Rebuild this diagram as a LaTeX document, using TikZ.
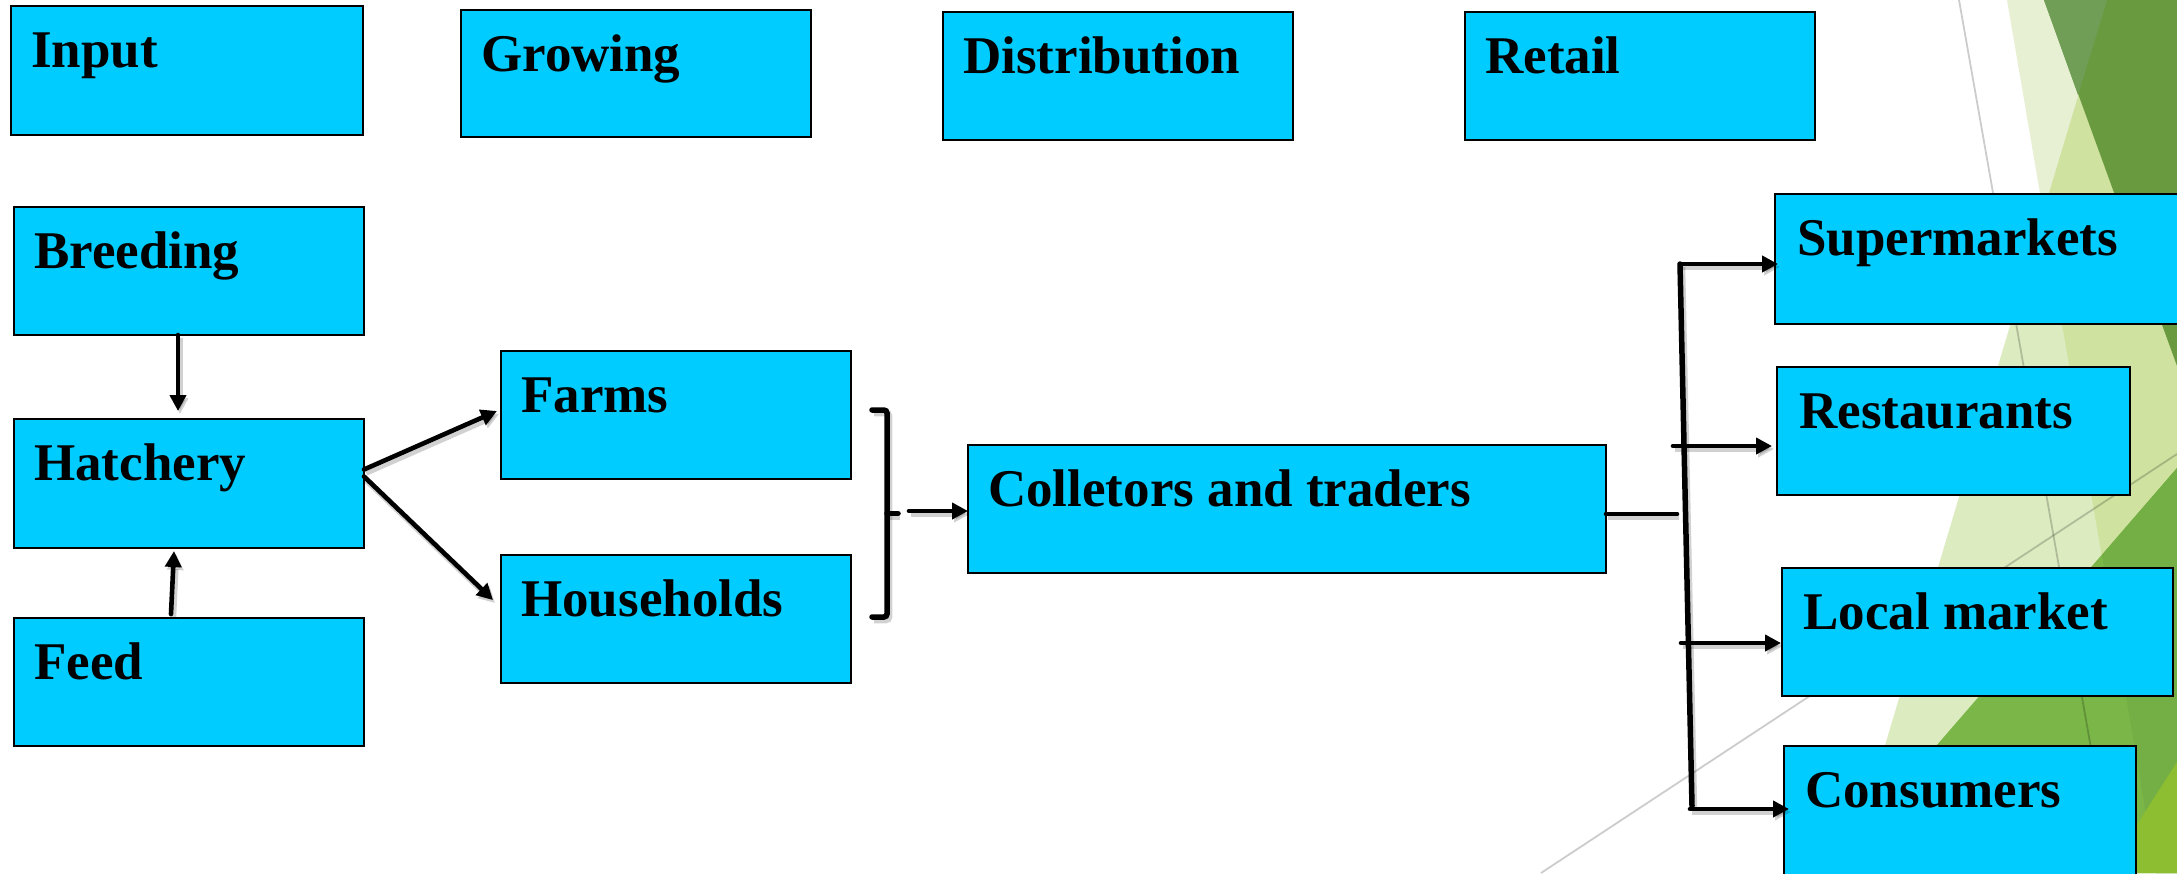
\documentclass[tikz,border=0pt]{standalone}
\usepackage{fontspec}
\setmainfont{Liberation Serif}
\usetikzlibrary{arrows.meta,calc}
\definecolor{boxcyan}{HTML}{00CCFF}
\definecolor{paleA}{HTML}{E8F0D4}
\definecolor{paleB}{HTML}{DDEBC0}
\definecolor{paleAB}{HTML}{D0E2A0}
\definecolor{oliveD}{HTML}{6A9A3F}
\definecolor{oliveL}{HTML}{719E57}
\definecolor{limeG}{HTML}{7AB648}
\definecolor{limeR}{HTML}{74AF45}
\definecolor{limeB}{HTML}{8DBD30}
\begin{document}
\begin{tikzpicture}[x=1pt,y=-1pt,
  box/.style={draw=black, line width=2.2pt, fill=boxcyan, anchor=north west,
    inner sep=0pt, outer sep=0pt, minimum width=350pt, minimum height=128pt},
  lbl/.style={anchor=base west, inner sep=0pt, font=\fontsize{53}{60}\selectfont\bfseries},
  conn/.style={line width=4.6pt, line cap=round, draw=black,
    preaction={draw=black, opacity=0.18, line width=6.5pt,
      transform canvas={xshift=2pt,yshift=-3pt}}},
  arr/.style={conn, -{Triangle[length=16pt,width=16pt]}},
  brk/.style={conn, line width=5.5pt, rounded corners=3pt},
  thin/.style={draw=black, opacity=0.2, line width=1.8pt}
]
\useasboundingbox (0,0) rectangle (2177,873);
\fill[white] (0,0) rectangle (2177,873);
\clip (0,0) rectangle (2177,873);

% background facets
\fill[paleA] (2007,0) -- (2177,0) -- (2177,873) -- (2156,873) -- cycle;
\fill[paleB] (2107,0) -- (2177,0) -- (2177,873) -- (1847,873) -- cycle;
\fill[paleAB] (2107,0) -- (2177,0) -- (2177,873) -- (2156,873) -- (2043,213) -- cycle;
\fill[oliveD] (2044,0) -- (2177,0) -- (2177,366) -- cycle;
\fill[oliveL] (2044,0) -- (2107,0) -- (2078,95) -- cycle;
\fill[limeG] (2177,468) -- (1826,873) -- (2177,873) -- cycle;
\fill[limeR] (2102,555) -- (2177,468) -- (2177,873) -- (2156,873) -- cycle;
\fill[limeB] (2177,762) -- (2106,873) -- (2177,873) -- cycle;
\draw[thin] (1959,0) -- (2113,873);
\draw[thin] (1541,873) -- (2177,454);

% header boxes
\node[box, minimum width=352pt, minimum height=129pt] (input) at (11,6) {};
\node[box, minimum height=127pt] (growing) at (461,10) {};
\node[box] (distribution) at (943,12) {};
\node[box] (retail) at (1465,12) {};
% left column
\node[box] (breeding) at (14,207) {};
\node[box, minimum height=129pt] (hatchery) at (14,419) {};
\node[box] (feed) at (14,618) {};
% growing
\node[box] (farms) at (501,351) {};
\node[box] (households) at (501,555) {};
% distribution
\node[box, minimum width=638pt] (colletors) at (968,445) {};
% retail
\node[box, minimum width=415pt, minimum height=130pt] (supermarkets) at (1775,194) {};
\node[box, minimum width=353pt] (restaurants) at (1777,367) {};
\node[box, minimum width=391pt] (localmarket) at (1782,568) {};
\node[box, minimum width=352pt, minimum height=144pt] (consumers) at (1784,746) {};

% labels
\node[lbl] (t-input) at ([shift={(20,61)}]input.north west) {Input};
\node[lbl] (t-growing) at ([shift={(20,61)}]growing.north west) {Growing};
\node[lbl] (t-distribution) at ([shift={(20,61)}]distribution.north west) {Distribution};
\node[lbl] (t-retail) at ([shift={(20,61)}]retail.north west) {Retail};
\node[lbl] (t-breeding) at ([shift={(20,61)}]breeding.north west) {Breeding};
\node[lbl] (t-hatchery) at ([shift={(20,61)}]hatchery.north west) {Hatchery};
\node[lbl] (t-feed) at ([shift={(20,61)}]feed.north west) {Feed};
\node[lbl] (t-farms) at ([shift={(20,61)}]farms.north west) {Farms};
\node[lbl] (t-households) at ([shift={(20,61)}]households.north west) {Households};
\node[lbl] (t-colletors) at ([shift={(20,61)}]colletors.north west) {Colletors and traders};
\node[lbl] (t-supermarkets) at ([shift={(22,61)}]supermarkets.north west) {Supermarkets};
\node[lbl] (t-restaurants) at ([shift={(22,61)}]restaurants.north west) {Restaurants};
\node[lbl] (t-localmarket) at ([shift={(21,61)}]localmarket.north west) {Local market};
\node[lbl] (t-consumers) at ([shift={(21,61)}]consumers.north west) {Consumers};

% connectors: input side
\draw[arr] ([xshift=-11pt]breeding.south) -- ([xshift=-11pt,yshift=8pt]hatchery.north);
\draw[arr] ([xshift=-18pt,yshift=4pt]feed.north) -- ([xshift=-15pt,yshift=-3pt]hatchery.south);
\draw[arr] ([yshift=14pt]hatchery.east) -- ([xshift=-4pt,yshift=4pt]farms.west);
\draw[arr] ([yshift=7pt]hatchery.east) -- ([xshift=-8pt,yshift=19pt]households.west);

% bracket
\coordinate (bt) at ([xshift=21pt,yshift=5pt]farms.east);
\coordinate (bb) at ([xshift=21pt,yshift=2pt]households.east);
\coordinate (bm) at ($(bt)!0.5!(bb)+(15,0)$);
\draw[brk] (bt) -- ++(15,0) |- (bb);
\draw[brk] (bm) -- ++(11,0);
\draw[arr] ([xshift=-59pt,yshift=-2pt]colletors.west) -- ([yshift=-2pt]colletors.west);

% retail distribution
\coordinate (hub) at ([xshift=71pt,yshift=-5pt]colletors.east);
\coordinate (vtop) at ([xshift=-95pt,yshift=-5pt]supermarkets.west);
\coordinate (vbot) at ([xshift=-92pt,yshift=12pt]consumers.west);
\draw[conn] ([yshift=-5pt]colletors.east) -- (hub);
\draw[conn, line width=5.5pt] (vtop) -- (vbot);
\draw[arr] (vtop) -- ([xshift=3pt,yshift=-5pt]supermarkets.west);
\draw[arr] ([xshift=-104pt,yshift=-15pt]restaurants.west) -- ([xshift=-5pt,yshift=-15pt]restaurants.west);
\draw[arr] ([xshift=-101pt,yshift=-11pt]localmarket.west) -- ([xshift=-1pt,yshift=-11pt]localmarket.west);
\draw[arr] ([xshift=-94pt,yshift=9pt]consumers.west) -- ([xshift=5pt,yshift=9pt]consumers.west);
\end{tikzpicture}
\end{document}
